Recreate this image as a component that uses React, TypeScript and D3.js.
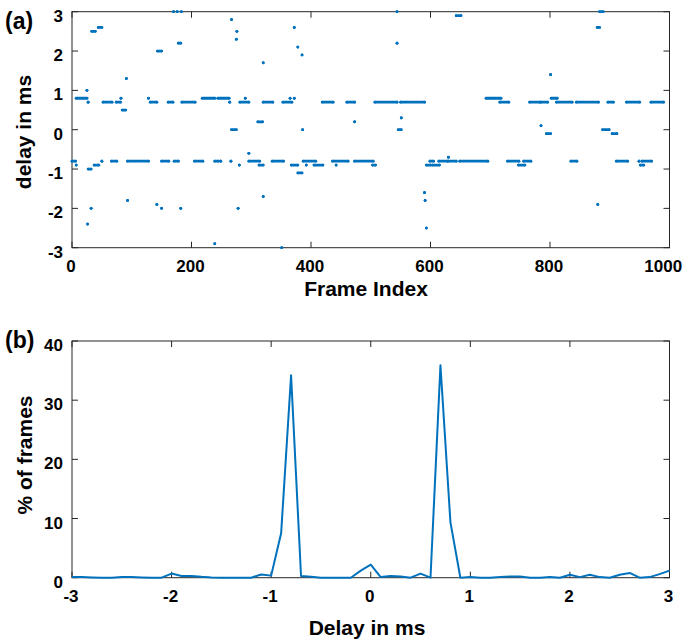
import React from "react";
import * as d3 from "d3";

const frameTicks = [0, 200, 400, 600, 800, 1000];
const delayTicks = [-3, -2, -1, 0, 1, 2, 3];
const pctTicks = [0, 10, 20, 30, 40];

// runs of consecutive frames at one delay: [first frame, last frame, delay in ms]
const delayRuns: [number, number, number][] = [
  [0, 6, -0.8], [7, 7, -0.9], [7, 25, 0.8], [25, 25, 1.0], [26, 26, -2.4],
  [27, 27, 0.7], [27, 32, -1.0], [32, 32, -2.0], [33, 39, 2.5], [37, 45, -0.9],
  [44, 50, 2.6], [50, 50, -0.8], [52, 67, 0.7], [66, 75, -0.8], [74, 81, 0.7],
  [82, 82, 0.8], [84, 90, 0.5], [91, 91, 1.3], [93, 128, -0.8], [93, 93, -1.8],
  [128, 128, 0.8], [131, 142, 0.7], [142, 142, -1.9], [143, 150, 2.0], [150, 150, -2.0],
  [150, 162, -0.8], [161, 169, 0.7], [170, 170, 3.0], [171, 178, -0.8], [176, 176, 3.0],
  [178, 182, 2.2], [182, 182, -2.0], [183, 183, 3.0], [184, 206, 0.7], [205, 219, -0.8],
  [218, 239, 0.8], [239, 239, -2.9], [239, 245, -0.8], [244, 263, 0.8], [249, 249, -0.8],
  [264, 264, 0.7], [266, 266, -0.8], [267, 267, 2.8], [267, 275, 0], [275, 275, 2.3],
  [276, 276, 2.5], [278, 278, -2.0], [280, 280, -0.9], [281, 296, 0.7], [290, 290, 0.8],
  [296, 296, -0.6], [296, 314, -0.8], [311, 319, 0.2], [313, 320, -0.9], [320, 320, 1.7],
  [320, 320, -1.7], [320, 336, 0.7], [335, 354, -0.8], [351, 351, -3.0], [353, 368, 0.7],
  [365, 365, 0.8], [367, 378, -0.9], [372, 372, 0.8], [372, 372, 2.6], [378, 378, 2.1],
  [378, 385, -1.1], [385, 385, 1.9], [386, 386, 0], [387, 408, -0.8], [392, 392, -0.9],
  [405, 420, -0.9], [419, 437, 0.7], [436, 462, -0.8], [442, 442, -0.9], [460, 473, 0.7],
  [473, 473, 0.2], [473, 504, -0.8], [503, 508, -0.9], [507, 544, 0.7], [544, 544, 2.2],
  [544, 544, 3.0], [546, 551, 0], [551, 551, 0.3], [550, 590, 0.7], [590, 590, -1.6],
  [591, 591, -1.8], [593, 593, -2.5], [593, 600, -0.9], [599, 605, -0.8], [603, 615, -0.9],
  [614, 628, -0.8], [630, 630, -0.7], [630, 643, -0.8], [643, 651, 2.9], [649, 696, -0.8],
  [693, 718, 0.8], [716, 731, 0.7], [729, 748, -0.8], [747, 758, -0.9], [756, 768, -0.8],
  [766, 783, 0.7], [785, 785, 0.1], [785, 796, 0.7], [794, 801, -0.1], [801, 801, 1.4],
  [802, 812, 0.8], [811, 837, 0.7], [835, 845, -0.8], [844, 881, 0.7], [879, 883, 2.6],
  [880, 880, -1.9], [883, 889, 3.0], [888, 899, 0], [897, 906, 0.7], [904, 912, -0.1],
  [911, 930, -0.8], [928, 950, 0.7], [949, 949, -0.8], [951, 957, -0.9], [954, 970, -0.8],
  [969, 990, 0.7],
];

// histogram: bin centres -3.0 .. 3.0 in 0.1 ms steps
const histDelay = d3.range(61).map((i) => +(-3 + i * 0.1).toFixed(1));
const histPct = [
  0.1, 0.1, 0.05, 0, 0, 0.1, 0.1, 0.05, 0, 0,
  0.7, 0.3, 0.3, 0.15, 0.05, 0, 0, 0, 0, 0.55,
  0.35, 7.5, 34.2, 0.3, 0.15, 0, 0, 0, 0, 1.2,
  2.2, 0.1, 0.3, 0.2, 0, 0.7, 0, 35.9, 9.4, 0,
  0.1, 0, 0, 0.1, 0.2, 0.2, 0, 0, 0.1, 0,
  0.5, 0.1, 0.5, 0.1, 0, 0.5, 0.8, 0, 0.1, 0.6,
  1.2,
];

const BLUE = "#0072BD";
const AXIS = "#262626";
const FONT = "'Liberation Sans', Arial, sans-serif";
const W = 684;

function Axes({ x, y, xTicks, yTicks }) {
  const [x0, x1] = x.range();
  const [y0, y1] = y.range();
  return (
    <g stroke={AXIS} strokeWidth={1} fontFamily={FONT} fontWeight="bold" fontSize={17}>
      <rect x={x0} y={y1} width={x1 - x0} height={y0 - y1} fill="none" />
      {xTicks.map((t) => {
        // keep the last label inside the picture
        const tx = Math.min(x(t), W - 1 - String(t).length * 4.7);
        return (
          <g key={"x" + t}>
            <line x1={x(t)} x2={x(t)} y1={y0} y2={y0 - 6} />
            <line x1={x(t)} x2={x(t)} y1={y1} y2={y1 + 6} />
            <text x={tx - 1} y={y0 + 24} textAnchor="middle" stroke="none" fill="#000">
              {t}
            </text>
          </g>
        );
      })}
      {yTicks.map((t) => (
        <g key={"y" + t}>
          <line x1={x0} x2={x0 + 6} y1={y(t)} y2={y(t)} />
          <line x1={x1} x2={x1 - 6} y1={y(t)} y2={y(t)} />
          <text x={x0 - 9} y={y(t) + 10} textAnchor="end" stroke="none" fill="#000">
            {t}
          </text>
        </g>
      ))}
    </g>
  );
}

export default function App() {
  const height = 640;

  const xA = d3.scaleLinear().domain([0, 1000]).range([72, 669.5]);
  const yA = d3.scaleLinear().domain([-3, 3]).range([247.7, 11.7]);
  const xB = d3.scaleLinear().domain([-3, 3]).range([72, 669.5]);
  const yB = d3.scaleLinear().domain([0, 40]).range([577.7, 341]);

  const line = d3
    .line<number>()
    .x((d, i) => xB(histDelay[i]))
    .y((d) => yB(d));

  return (
    <div style={{ position: "absolute", left: 0, top: 0 }}>
      <svg width={W} height={height} style={{ display: "block", background: "#fff" }}>
        <Axes x={xA} y={yA} xTicks={frameTicks} yTicks={delayTicks} />
        <g stroke={BLUE} fill={BLUE} strokeLinecap="round">
          {delayRuns.map(([a, b, d], i) => (
            <g key={i}>
              <line x1={xA(a)} x2={xA(b)} y1={yA(d)} y2={yA(d)} strokeWidth={2.8} />
              <circle cx={xA(a)} cy={yA(d)} r={1.3} stroke="none" />
              <circle cx={xA(b)} cy={yA(d)} r={1.3} stroke="none" />
            </g>
          ))}
        </g>

        <Axes x={xB} y={yB} xTicks={delayTicks} yTicks={pctTicks} />
        <path d={line(histPct) || ""} fill="none" stroke={BLUE} strokeWidth={2} strokeLinejoin="round" />

        <g fontFamily={FONT} fontWeight="bold" fill="#000">
          <text x={5} y={29} fontSize={23}>(a)</text>
          <text x={5} y={348} fontSize={23}>(b)</text>
          <text x={366} y={296} fontSize={21} textAnchor="middle">Frame Index</text>
          <text x={367} y={635} fontSize={21} textAnchor="middle">Delay in ms</text>
          <text transform="translate(31,132) rotate(-90)" fontSize={21} textAnchor="middle">
            delay in ms
          </text>
          <text transform="translate(32,455) rotate(-90)" fontSize={21} textAnchor="middle">
            % of frames
          </text>
        </g>
      </svg>
    </div>
  );
}
